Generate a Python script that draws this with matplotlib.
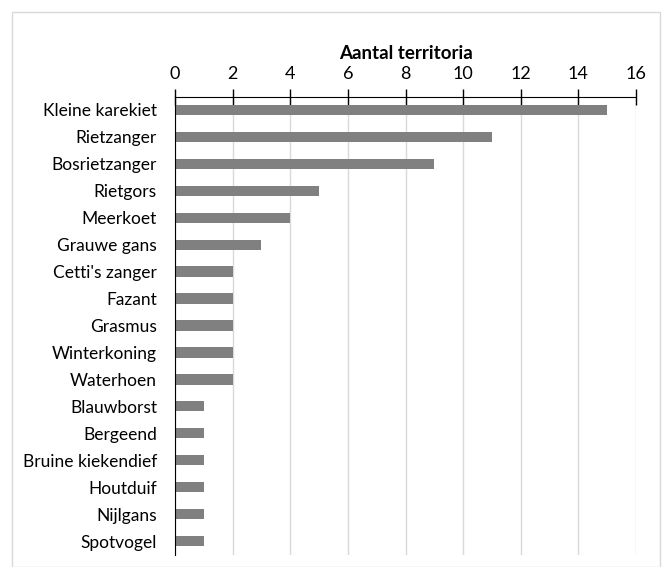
import matplotlib
matplotlib.use("Agg")
import matplotlib.pyplot as plt
from matplotlib.patches import Rectangle

species = ["Kleine karekiet", "Rietzanger", "Bosrietzanger", "Rietgors", "Meerkoet",
           "Grauwe gans", "Cetti's zanger", "Fazant", "Grasmus", "Winterkoning",
           "Waterhoen", "Blauwborst", "Bergeend", "Bruine kiekendief", "Houtduif",
           "Nijlgans", "Spotvogel"]
values = [15, 11, 9, 5, 4, 3, 2, 2, 2, 2, 2, 1, 1, 1, 1, 1, 1]
xticks = [0, 2, 4, 6, 8, 10, 12, 14, 16]
title = "Aantal territoria"

plt.rcParams['font.family'] = ['Lato', 'DejaVu Sans']

fig = plt.figure(figsize=(6.71, 5.67), dpi=100)
ax = fig.add_axes([175/671, 1-554.5/567, (636-175)/671, (554.5-96.5)/567])

ypos = list(range(len(species)))
ax.barh(ypos, values, height=0.38, color='#808080', zorder=3)
ax.set_ylim(len(species)-0.5, -0.5)
ax.set_xlim(0, 16)
ax.set_xticks(xticks)
ax.xaxis.tick_top()
ax.xaxis.set_label_position('top')
ax.set_xlabel(title, fontsize=13.5, fontweight='bold', labelpad=5)
ax.set_yticks(ypos)
ax.set_yticklabels(species, fontsize=12.5)
ax.tick_params(axis='x', direction='inout', length=11, width=1, labelsize=13, pad=5)
ax.tick_params(axis='y', length=0, pad=13)
ax.grid(axis='x', color='#d9d9d9', linewidth=1, zorder=0)
for s in ['right', 'bottom']:
    ax.spines[s].set_visible(False)
ax.spines['top'].set_color('black')
ax.spines['left'].set_color('black')
ax.spines['left'].set_zorder(4)

fig.patches.append(Rectangle((12/671, 0), (660-12)/671, 1-12/567, transform=fig.transFigure,
                             fill=False, edgecolor='#d9d9d9', linewidth=1))

fig.savefig('out.png', dpi=100)
